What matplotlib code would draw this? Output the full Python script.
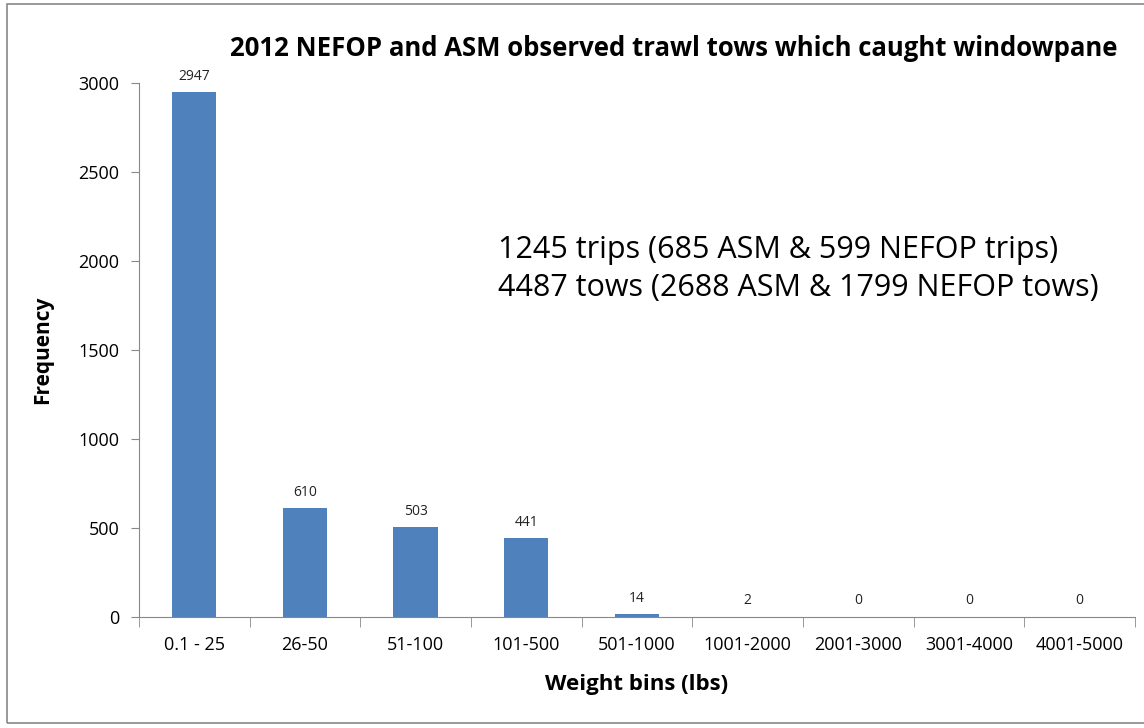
import numpy as np
import matplotlib.pyplot as plt
from matplotlib.patches import Rectangle

plt.rcParams['font.family'] = ['Open Sans', 'DejaVu Sans']

# data
bins = ["0.1 - 25", "26-50", "51-100", "101-500", "501-1000",
        "1001-2000", "2001-3000", "3001-4000", "4001-5000"]
freq = [2947, 610, 503, 441, 14, 2, 0, 0, 0]
yticks = [0, 500, 1000, 1500, 2000, 2500, 3000]

fig = plt.figure(figsize=(11.44, 7.28), dpi=100)
ax = fig.add_axes([0.1215, 0.1525, 0.8705, 0.7335])

x = np.arange(len(bins))
bars = ax.bar(x, freq, width=0.4, color='#4F81BD')

# value labels above bars
for xi, v in zip(x, freq):
    ax.text(xi, v + 50, str(v), ha='center', va='bottom', fontsize=10, color='#222222')

ax.set_xlim(-0.5, len(bins) - 0.5)
ax.set_ylim(0, 3000)
ax.set_yticks(yticks)
ax.set_xticks(x)
ax.set_xticklabels(bins, fontsize=13)
ax.set_xticks(np.arange(-0.5, len(bins)), minor=True)
ax.tick_params(axis='x', which='major', length=0, pad=14)
ax.tick_params(axis='x', which='minor', length=7, color='#888888', direction='out')
ax.tick_params(axis='y', length=6, color='#888888', labelsize=13, pad=8)

for s in ['top', 'right']:
    ax.spines[s].set_visible(False)
for s in ['left', 'bottom']:
    ax.spines[s].set_color('#888888')

ax.set_xlabel("Weight bins (lbs)", fontsize=16, fontweight='bold', labelpad=14)
ax.set_ylabel("Frequency", fontsize=15, fontweight='bold', labelpad=18)

fig.text(0.589, 0.934, "2012 NEFOP and ASM observed trawl tows which caught windowpane",
         ha='center', va='center', fontsize=18.5, fontweight='bold')
ax.text(0.36, 0.652, "1245 trips (685 ASM & 599 NEFOP trips)\n4487 tows (2688 ASM & 1799 NEFOP tows)",
        transform=ax.transAxes, ha='left', va='center', fontsize=22, linespacing=1.35)

# outer chart border
fig.patches.append(Rectangle((0.006, 0.007), 1.2, 0.988, transform=fig.transFigure,
                             fill=False, edgecolor='#888888', linewidth=1.2))

plt.savefig("out.png", dpi=100)
